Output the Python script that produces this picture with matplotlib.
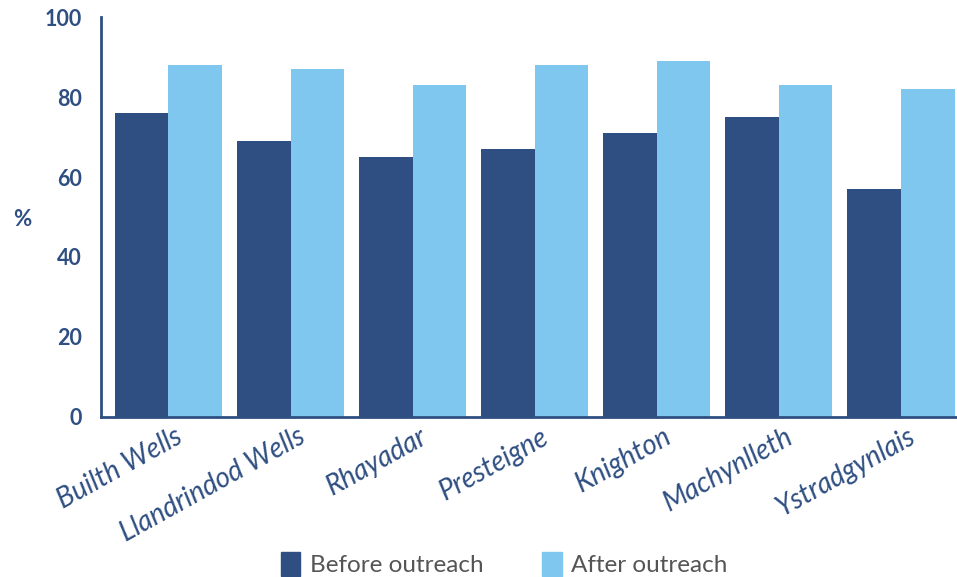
import numpy as np
import matplotlib.pyplot as plt
import matplotlib.transforms as mtransforms
from matplotlib.patches import Patch

towns = ["Builth Wells", "Llandrindod Wells", "Rhayadar", "Presteigne",
         "Knighton", "Machynlleth", "Ystradgynlais"]
before = [76, 69, 65, 67, 71, 75, 57]
after = [88, 87, 83, 88, 89, 83, 82]
series_names = ["Before outreach", "After outreach"]

dark = "#2f4f82"
light = "#7fc7ee"

plt.rcParams['font.family'] = ['Lato', 'DejaVu Sans']

fig = plt.figure(figsize=(9.57, 5.77), dpi=100)
ax = fig.add_axes([0.1055, 0.278, 0.8945, 0.692])

x = np.arange(len(towns))
w = 0.44
ax.bar(x - w / 2, before, width=w, color=dark, label=series_names[0])
ax.bar(x + w / 2, after, width=w, color=light, label=series_names[1])

ax.set_xlim(-0.553, len(towns) - 1 + 0.46)
ax.set_ylim(0, 100)
ax.set_yticks(range(0, 101, 20))
ax.tick_params(axis='y', length=0, pad=14, labelsize=15.5, labelcolor=dark)
for lbl in ax.get_yticklabels():
    lbl.set_fontweight('bold')

ax.set_xticks(x)
ax.set_xticklabels(towns, rotation=29, ha='right', rotation_mode='anchor',
                   fontsize=20, fontstyle='italic', color=dark)
ax.tick_params(axis='x', length=0, pad=5)
# nudge the slanted labels a little to the right
shift = mtransforms.ScaledTranslation(6 / 100, 0, fig.dpi_scale_trans)
for lbl in ax.get_xticklabels():
    lbl.set_transform(lbl.get_transform() + shift)

for s in ['top', 'right']:
    ax.spines[s].set_visible(False)
for s in ['left', 'bottom']:
    ax.spines[s].set_color(dark)
    ax.spines[s].set_linewidth(2)

fig.text(0.023, 0.62, "%", fontsize=16, fontweight='bold', color=dark,
         ha='center', va='center')

handles = [Patch(color=dark), Patch(color=light)]
fig.legend(handles, series_names, loc='center', bbox_to_anchor=(0.527, 0.022),
           ncol=2, frameon=False, fontsize=17.5, labelcolor='#555555',
           handlelength=0.8, handleheight=1.1, columnspacing=2.4, handletextpad=0.4)

fig.savefig("out.png", dpi=100)
